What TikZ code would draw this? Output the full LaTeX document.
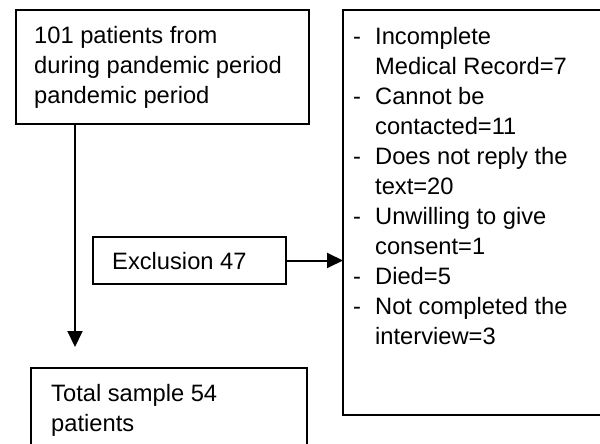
\documentclass[tikz,border=0pt]{standalone}
\usepackage{fontspec}
\setmainfont{Liberation Sans}
\usetikzlibrary{arrows.meta,positioning}

\tikzset{
  box/.style={draw, line width=2pt, inner sep=0pt, anchor=north west},
  openbox/.style={inner sep=0pt, anchor=north west},
  edge/.style={line width=2pt},
  txt/.style={anchor=north west, align=left, inner sep=0pt, font=\fontsize{23.7}{30}\selectfont},
  arr/.style={-{Triangle[length=16pt,width=15pt]}, line width=2pt}
}
\newcommand{\dashitem}{\makebox[22pt][l]{-}}
\newcommand{\contline}{\hspace*{22pt}}

\begin{document}
\begin{tikzpicture}[x=1pt,y=-1pt]
  \useasboundingbox (0,0) rectangle (600,444);

  % boxes
  \node[box, minimum width=293pt, minimum height=114pt] (start) at (15,9) {};
  \node[box, minimum width=193pt, minimum height=47pt] (excl) at (92,236) {};
  \node[openbox, minimum width=300pt, minimum height=405pt] (reasons) at (343,10) {};
  \draw[edge] (reasons.north east) -- (reasons.north west) -- (reasons.south west) -- (reasons.south east);
  \node[openbox, minimum width=276pt, minimum height=100pt] (sample) at (31,368) {};
  \draw[edge] (sample.south west) -- (sample.north west) -- (sample.north east) -- (sample.south east);

  % texts
  \node[txt] (starttxt) at (34,26) {101 patients from\\during pandemic period\\pandemic period};
  \node[txt] (excltxt) at (112,252) {Exclusion 47};
  \node[txt] (reasonstxt) at (353,27) {\dashitem Incomplete\\
    \contline Medical Record=7\\
    \dashitem Cannot be\\
    \contline contacted=11\\
    \dashitem Does not reply the\\
    \contline text=20\\
    \dashitem Unwilling to give\\
    \contline consent=1\\
    \dashitem Died=5\\
    \dashitem Not completed the\\
    \contline interview=3};
  \node[txt] (sampletxt) at (51,384) {Total sample 54\\patients};

  % arrows
  \coordinate (downend) at (75,347);
  \draw[arr] (start.south -| downend) -- (downend);
  \draw[arr] (excl.east) -- (excl.east -| reasons.west);
\end{tikzpicture}
\end{document}
